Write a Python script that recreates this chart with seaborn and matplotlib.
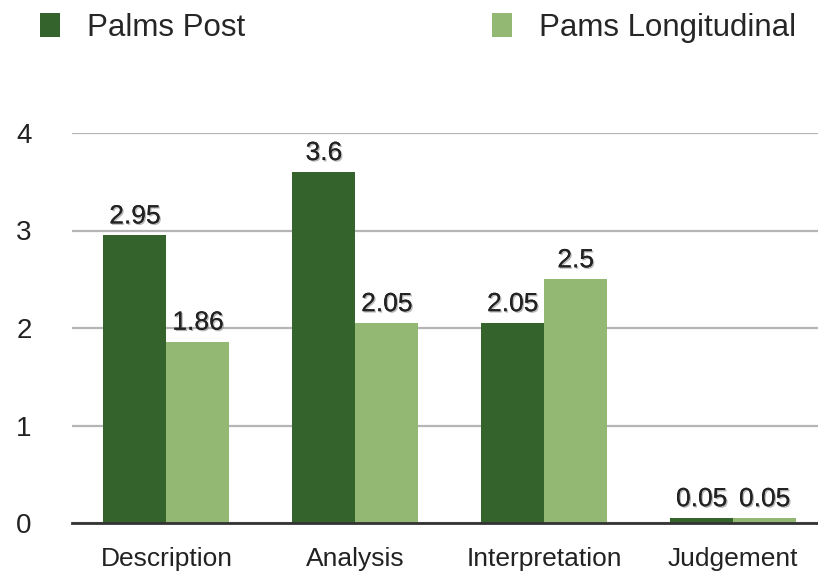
import matplotlib
matplotlib.use("Agg")
import matplotlib.pyplot as plt
import matplotlib.patheffects as pe
from matplotlib.patches import Patch
import seaborn as sns
import pandas as pd

categories = ["Description", "Analysis", "Interpretation", "Judgement"]
series_names = ["Palms Post", "Pams Longitudinal"]
palms_post = [2.95, 3.6, 2.05, 0.05]
pams_longitudinal = [1.86, 2.05, 2.5, 0.05]
y_ticks = [0, 1, 2, 3, 4]
colors = ["#34642b", "#93b874"]

df = pd.DataFrame({
    "category": categories * 2,
    "value": palms_post + pams_longitudinal,
    "series": [series_names[0]] * 4 + [series_names[1]] * 4,
})

sns.set_style("white")
plt.rcParams["font.family"] = ["Liberation Sans", "DejaVu Sans"]

fig = plt.figure(figsize=(8.18, 5.79), dpi=100)
ax = fig.add_axes([72 / 818, (579 - 523) / 579, 1 - 72 / 818, (523 - 133) / 579])

sns.barplot(data=df, x="category", y="value", hue="series", order=categories,
            hue_order=series_names, palette=colors, width=0.667, gap=0,
            saturation=1, legend=False, ax=ax, edgecolor="none", linewidth=0)

ax.set_ylim(0, 4)
ax.set_xlim(-0.5, 3.45)
ax.set_yticks(y_ticks)
ax.set_yticklabels([str(t) for t in y_ticks])
ax.yaxis.grid(True, color="#b5b5b5", linewidth=1.6)
ax.set_axisbelow(True)
for s in ["top", "right", "left"]:
    ax.spines[s].set_visible(False)
ax.spines["bottom"].set_color("#333333")
ax.spines["bottom"].set_linewidth(2)
ax.spines["bottom"].set_zorder(5)
ax.tick_params(axis="y", length=0, pad=29, labelsize=20, labelcolor="#222222")
ax.tick_params(axis="x", length=0, pad=17, labelsize=19, labelcolor="#222222")
ax.set_xlabel("")
ax.set_ylabel("")

shadow = [pe.withSimplePatchShadow(offset=(1, -1), shadow_rgbFace="#888888", alpha=0.6), pe.Normal()]
for cont in ax.containers:
    labels = ax.bar_label(cont, labels=[f"{v:g}" for v in cont.datavalues],
                          padding=5, fontsize=19, color="#222222")
    for t in labels:
        t.set_path_effects(shadow)

handles = [Patch(facecolor=c, edgecolor="none") for c in colors]
fig.legend(handles, series_names, loc="upper left", bbox_to_anchor=(40 / 818, 1 - 13 / 579),
           ncol=2, frameon=False, fontsize=22.5, handlelength=0.64, handleheight=0.8,
           handletextpad=0.86, columnspacing=7.9, borderpad=0, borderaxespad=0)

fig.savefig("out.png", dpi=100)
